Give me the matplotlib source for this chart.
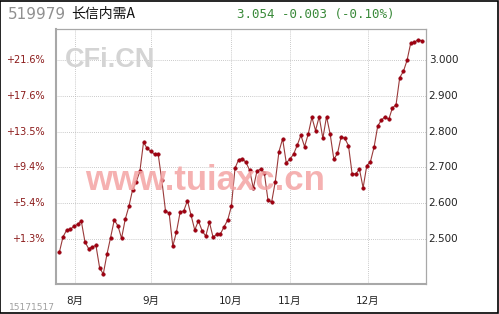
import matplotlib.pyplot as plt
import matplotlib.transforms as mtransforms

plt.rcParams['font.family'] = ['DejaVu Sans', 'Noto Sans CJK SC']

## data (daily net value, Jul-Dec)
prices = [2.463, 2.506, 2.525, 2.527, 2.536, 2.541, 2.550, 2.492, 2.473, 2.478,
          2.482, 2.420, 2.402, 2.457, 2.504, 2.553, 2.537, 2.502, 2.555, 2.591,
          2.637, 2.660, 2.689, 2.770, 2.753, 2.745, 2.737, 2.737, 2.664, 2.579,
          2.572, 2.480, 2.520, 2.575, 2.579, 2.607, 2.566, 2.525, 2.551, 2.523,
          2.508, 2.547, 2.505, 2.513, 2.514, 2.534, 2.553, 2.591, 2.698, 2.722,
          2.724, 2.714, 2.692, 2.642, 2.690, 2.695, 2.685, 2.609, 2.603, 2.660,
          2.744, 2.780, 2.713, 2.723, 2.737, 2.762, 2.790, 2.758, 2.793, 2.840,
          2.803, 2.842, 2.781, 2.842, 2.793, 2.723, 2.739, 2.786, 2.781, 2.761,
          2.682, 2.682, 2.695, 2.643, 2.705, 2.716, 2.757, 2.816, 2.832, 2.842,
          2.834, 2.866, 2.875, 2.951, 2.968, 2.999, 3.047, 3.049, 3.057, 3.054]

price_ticks = [2.5, 2.6, 2.7, 2.8, 2.9, 3.0]
price_labels = ['2.500', '2.600', '2.700', '2.800', '2.900', '3.000']
pct_labels = ['+1.3%', '+5.4%', '+9.4%', '+13.5%', '+17.6%', '+21.6%']
month_pos = [4.2, 25.0, 46.8, 62.9, 84.2]
month_labels = ['8月', '9月', '10月', '11月', '12月']

code = '519979'
name = '长信内需A'
quote = '3.054 -0.003 (-0.10%)'

fig = plt.figure(figsize=(4.99, 3.14), dpi=100)
fig.patch.set_facecolor('white')
ax = fig.add_axes([0.1116, 0.0946, 0.7415, 0.813])

x = list(range(len(prices)))
ax.plot(x, prices, color='#9a3a3a', lw=0.8, zorder=3)
ax.plot(x, prices, ls='none', marker='o', ms=2.6, mfc='#a00010', mec='#8a0010',
        mew=0.3, zorder=4)

ax.set_xlim(-1, 100.1)
ax.set_ylim(2.3735, 3.0866)

# grid
for p in price_ticks:
    ax.axhline(p, color='#b8b8b8', lw=0.6, ls=(0, (1, 1.5)), zorder=1)
for m in month_pos:
    ax.axvline(m, color='#b8b8b8', lw=0.6, ls=(0, (1, 1.5)), zorder=1)

ax.set_xticks([])
ax.set_yticks([])
for s in ax.spines.values():
    s.set_color('#a8a8a8')
    s.set_linewidth(0.9)
ax.spines['left'].set_linewidth(1.5)
ax.spines['bottom'].set_linewidth(1.5)

# tick labels by hand
tr_right = mtransforms.blended_transform_factory(ax.transAxes, ax.transData)
for p, lab in zip(price_ticks, price_labels):
    ax.text(1.008, p, lab, transform=tr_right, ha='left', va='center',
            fontsize=7.5, color='#222222')
for p, lab in zip(price_ticks, pct_labels):
    ax.text(-0.03, p, lab, transform=tr_right, ha='right', va='center',
            fontsize=7, color='#8b1a1a')
tr_bottom = mtransforms.blended_transform_factory(ax.transData, ax.transAxes)
for m, lab in zip(month_pos, month_labels):
    ax.text(m, -0.045, lab, transform=tr_bottom, ha='center', va='top',
            fontsize=7.5, color='#222222')

# watermarks
fig.text(0.130, 0.808, 'CFi.CN', fontsize=19.5, fontweight='bold', color='#d4d4d4',
         family='Liberation Sans', va='center', ha='left', zorder=0)
fig.text(0.170, 0.425, 'www.tuiaxc.cn', fontsize=25, fontweight='bold',
         color='#f4a4a4', alpha=0.85, family='Liberation Sans',
         va='center', ha='left', zorder=0)

# header
fig.text(0.016, 0.955, code, fontsize=11, color='#909090', va='center', ha='left')
fig.text(0.143, 0.955, name, fontsize=10, color='#111111', va='center', ha='left',
         family=['Noto Sans CJK SC', 'DejaVu Sans'])
fig.text(0.474, 0.955, quote, fontsize=9, color='#3a8a3a', va='center', ha='left',
         family='DejaVu Sans Mono')
fig.text(0.018, 0.022, '15171517', fontsize=6.5, color='#a0a0a0', va='center',
         ha='left')

# outer frame
fig.add_artist(plt.Rectangle((0.001, 0.004), 0.996, 0.994, fill=False,
                             edgecolor='black', lw=1.2, transform=fig.transFigure))

fig.savefig('out.png', dpi=100)
